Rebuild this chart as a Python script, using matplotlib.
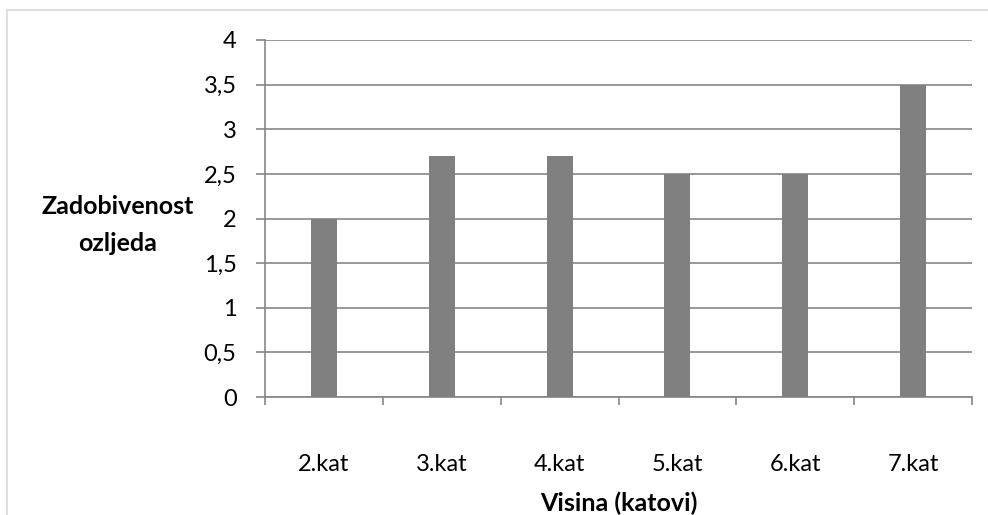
import matplotlib.pyplot as plt
import matplotlib.patches as patches

categories = ["2.kat", "3.kat", "4.kat", "5.kat", "6.kat", "7.kat"]
values = [2.0, 2.7, 2.7, 2.5, 2.5, 3.5]
yticks = [0, 0.5, 1, 1.5, 2, 2.5, 3, 3.5, 4]
ytick_labels = ["0", "0,5", "1", "1,5", "2", "2,5", "3", "3,5", "4"]

plt.rcParams["font.family"] = ["Lato", "DejaVu Sans"]

W, H = 988, 515
fig = plt.figure(figsize=(W / 100, H / 100), dpi=100)

# outer chart border
fig.add_artist(patches.Rectangle((7 / W, -0.01), 1.0, 1 - 10 / H + 0.01,
                                 transform=fig.transFigure, fill=False,
                                 edgecolor="#d9d9d9", linewidth=1.2))

left, right, top, bottom = 265, 972, 40, 397
ax = fig.add_axes([left / W, 1 - bottom / H, (right - left) / W, (bottom - top) / H])

x = range(len(categories))
ax.bar(x, values, width=0.22, color="#808080", zorder=3)

ax.set_xlim(-0.5, len(categories) - 0.5)
ax.set_ylim(0, 4)
ax.set_yticks(yticks)
ax.set_yticklabels(ytick_labels, fontsize=17)
ax.yaxis.grid(True, color="#868686", linewidth=1.2, zorder=0)

ax.set_xticks(list(x))
ax.set_xticklabels(categories, fontsize=17)
ax.tick_params(axis="x", length=0, pad=41)
ax.set_xticks([i - 0.5 for i in range(len(categories) + 1)], minor=True)
ax.tick_params(axis="x", which="minor", length=6, width=1.2, color="#868686")
ax.tick_params(axis="y", length=6.5, width=1.2, color="#868686", pad=14)

for s in ["top", "right"]:
    ax.spines[s].set_visible(False)
for s in ["left", "bottom"]:
    ax.spines[s].set_color("#868686")
    ax.spines[s].set_linewidth(1.2)

fig.text(118 / W, 1 - 225 / H, "Zadobivenost\nozljeda", ha="center", va="center",
         fontsize=18, fontweight="bold", linespacing=1.75)
fig.text(619 / W, 1 - 503 / H, "Visina (katovi)", ha="center", va="center",
         fontsize=18, fontweight="bold")

fig.savefig("out.png", dpi=100)
